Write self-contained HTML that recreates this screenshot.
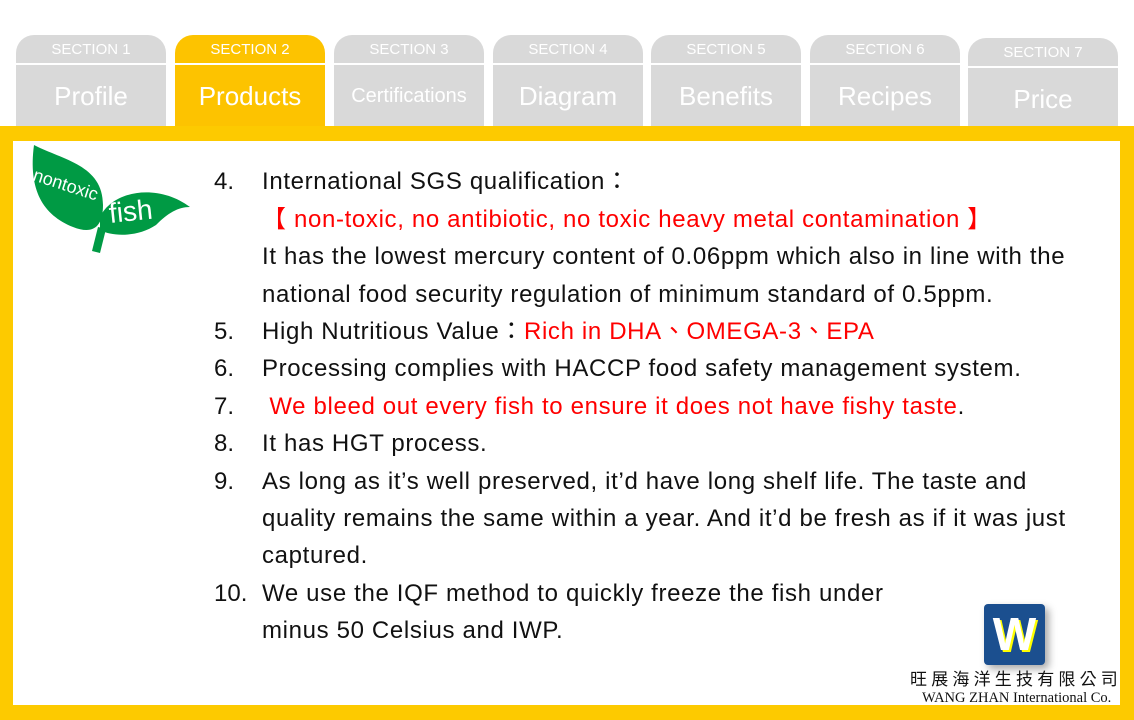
<!DOCTYPE html>
<html><head><meta charset="utf-8"><style>
body{margin:0;width:1134px;height:720px;background:#fff;position:relative;overflow:hidden;font-family:"Liberation Sans","Noto Sans CJK TC",sans-serif}
.tab{position:absolute;top:35px;width:150px;height:91px;background:#d9d9d9;border-radius:18px 18px 0 0;color:#fff;text-align:center}
.tab .s{height:28px;line-height:30px;font-size:15px;border-bottom:2px solid #fff}
.tab .t{font-size:26px;line-height:62px}
.tab.on{background:#fdc300}
.frame{position:absolute;left:0;top:126px;width:1134px;height:594px;background:#fdca00}
.inner{position:absolute;left:13px;top:141px;width:1107px;height:564px;background:#fff}
.ln{position:absolute;left:262px;font-size:24px;letter-spacing:0.65px;color:#111;white-space:nowrap;line-height:24px}
.n{position:absolute;left:214px;font-size:24px;color:#111;line-height:24px}
.r{color:#f00}
</style></head><body>
<div class="tab" style="left:16px"><div class="s">SECTION 1</div><div class="t">Profile</div></div>
<div class="tab on" style="left:175px"><div class="s">SECTION 2</div><div class="t">Products</div></div>
<div class="tab" style="left:334px"><div class="s">SECTION 3</div><div class="t" style="font-size:20px">Certifications</div></div>
<div class="tab" style="left:493px"><div class="s">SECTION 4</div><div class="t">Diagram</div></div>
<div class="tab" style="left:651px"><div class="s">SECTION 5</div><div class="t">Benefits</div></div>
<div class="tab" style="left:810px"><div class="s">SECTION 6</div><div class="t">Recipes</div></div>
<div class="tab" style="left:968px;top:38px;height:88px"><div class="s">SECTION 7</div><div class="t">Price</div></div>
<div class="frame"></div>
<div class="inner"></div>
<svg style="position:absolute;left:28px;top:145px" width="165" height="112">
<path d="M6 0 C35 15 75 20 75 60 C75 82 65 90 45 82 C15 70 0 45 6 0Z" fill="#009a44"/>
<path d="M72 72 C85 45 130 38 162 62 C150 62 140 68 128 80 C110 92 85 92 72 85Z" fill="#009a44"/>
<path d="M70 82 L78 84 L72 108 L64 106Z" fill="#009a44"/>
<text x="4" y="35" transform="rotate(18 4 35)" font-size="18" fill="#fff" font-family="Liberation Sans Narrow,Liberation Sans,sans-serif">nontoxic</text>
<text x="82" y="78" transform="rotate(-6 82 78)" font-size="28" fill="#fff" font-family="Liberation Sans Narrow,Liberation Sans,sans-serif">fish</text>
</svg>
<div class="n" style="top:170px">4.</div><div class="ln" style="top:170px">International SGS qualification：</div>
<div class="ln r" style="top:208px">【 non-toxic, no antibiotic, no toxic heavy metal contamination 】</div>
<div class="ln" style="top:245px">It has the lowest mercury content of 0.06ppm which also in line with the</div>
<div class="ln" style="top:283px">national food security regulation of minimum standard of 0.5ppm.</div>
<div class="n" style="top:320px">5.</div><div class="ln" style="top:320px">High Nutritious Value：<span class="r">Rich in DHA、OMEGA-3、EPA</span></div>
<div class="n" style="top:357px">6.</div><div class="ln" style="top:357px">Processing complies with HACCP food safety management system.</div>
<div class="n" style="top:395px">7.</div><div class="ln" style="top:395px"><span class="r">&nbsp;We bleed out every fish to ensure it does not have fishy taste</span>.</div>
<div class="n" style="top:432px">8.</div><div class="ln" style="top:432px">It has HGT process.</div>
<div class="n" style="top:470px">9.</div><div class="ln" style="top:470px">As long as it’s well preserved, it’d have long shelf life. The taste and</div>
<div class="ln" style="top:507px">quality remains the same within a year. And it’d be fresh as if it was just</div>
<div class="ln" style="top:544px">captured.</div>
<div class="n" style="top:582px">10.</div><div class="ln" style="top:582px">We use the IQF method to quickly freeze the fish under</div>
<div class="ln" style="top:619px">minus 50 Celsius and IWP.</div>
<div style="position:absolute;left:984px;top:604px;width:61px;height:61px;background:#1b4f8f;border-radius:4px;box-shadow:4px 4px 8px #aaa;color:#fff;font:bold 46px 'Liberation Sans',sans-serif;text-align:center;line-height:61px;text-shadow:2px 2px 0 #ff0">W</div>
<div style="position:absolute;left:910px;top:666px;font-size:17px;line-height:24px;letter-spacing:4.2px;color:#111;font-family:'Noto Sans CJK TC',sans-serif">旺展海洋生技有限公司</div>
<div style="position:absolute;left:922px;top:690px;font-size:14.5px;line-height:16px;color:#111;font-family:'Liberation Serif',serif">WANG ZHAN International Co.</div>
</body></html>
